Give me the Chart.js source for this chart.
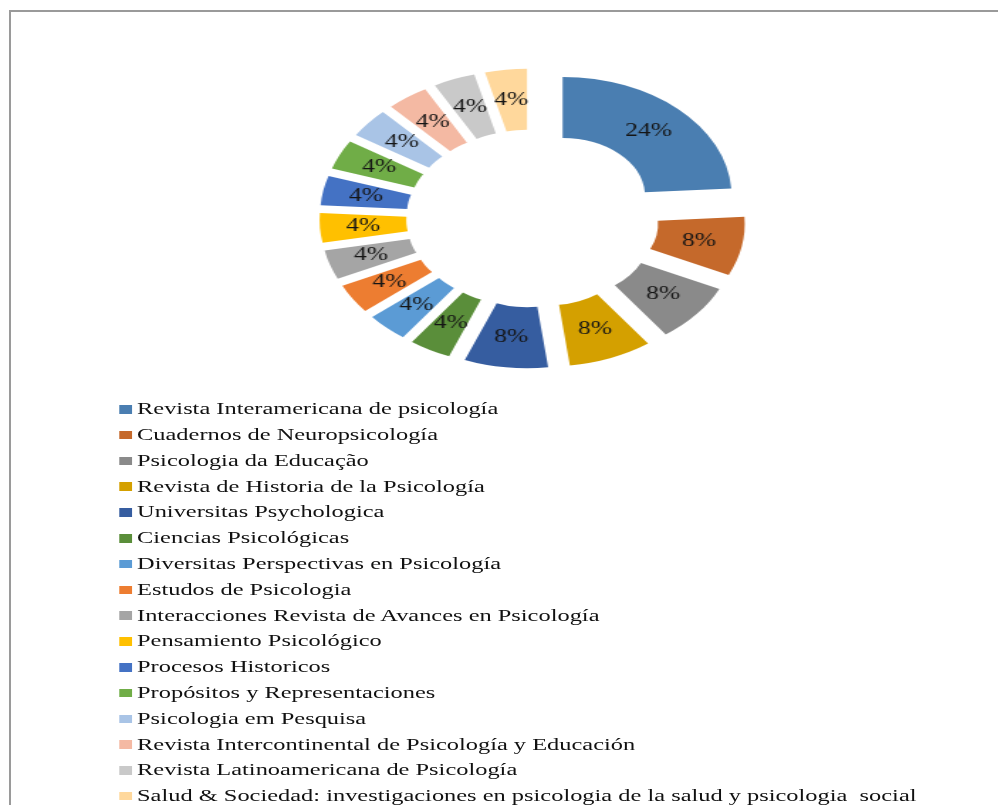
<!DOCTYPE html>
<html>
<head>
<meta charset="utf-8">
<script src="https://cdn.jsdelivr.net/npm/chart.js@4/dist/chart.umd.min.js"></script>
<style>
  html, body { margin: 0; padding: 0; background: #fff; overflow: hidden; width: 998px; height: 805px; }
  #frame { position: absolute; left: 9px; top: 10px; width: 1100px; height: 900px;
           border-left: 2px solid #9a9a9a; border-top: 2px solid #9a9a9a; box-sizing: border-box; }
  #wrap { position: absolute; left: 0; top: 0; width: 703px; height: 805px;
          transform: scaleX(1.42); transform-origin: 0 0; }
  #chartBox { position: absolute; left: 0; top: 0; width: 703px; height: 395px; }
  #legend { position: absolute; left: 84px; top: 396.4px; font-family: "Liberation Serif", "Times New Roman", serif;
            font-size: 17.2px; color: #111; }
  .item { display: flex; align-items: center; height: 25.8px; white-space: pre; }
  .box { width: 8.5px; height: 8.5px; margin-right: 4px; flex: none; }
</style>
</head>
<body>
<div id="frame"></div>
<div id="wrap">
  <div id="chartBox"><canvas id="c"></canvas></div>
  <div id="legend"></div>
</div>
<script>
const categories = [
  "Revista Interamericana de psicología",
  "Cuadernos de Neuropsicología",
  "Psicologia da Educação",
  "Revista de Historia de la Psicología",
  "Universitas Psychologica",
  "Ciencias Psicológicas",
  "Diversitas Perspectivas en Psicología",
  "Estudos de Psicologia",
  "Interacciones Revista de Avances en Psicología",
  "Pensamiento Psicológico",
  "Procesos Historicos",
  "Propósitos y Representaciones",
  "Psicologia em Pesquisa",
  "Revista Intercontinental de Psicología y Educación",
  "Revista Latinoamericana de Psicología",
  "Salud & Sociedad: investigaciones en psicologia de la salud y psicologia  social"
];
const percentages = [24, 8, 8, 8, 8, 4, 4, 4, 4, 4, 4, 4, 4, 4, 4, 4];
const sliceColors = [
  "#4a7eb1", "#c5692b", "#8a8a8a", "#d4a000", "#365da0", "#5a8e3a",
  "#5b9bd5", "#ed7d31", "#a5a5a5", "#ffc000", "#4472c4", "#70ad47",
  "#a9c4e6", "#f4b9a3", "#c9c9c9", "#ffd89c"
];

// explode distance (pure radial translation of each slice, like Excel)
const EXPLODE = 31;

const explodePlugin = {
  id: 'explode',
  beforeDatasetDraw(chart, args) {
    const ctx = chart.ctx;
    args.meta.data.forEach(arc => {
      const p = arc.getProps(['startAngle', 'endAngle'], true);
      const mid = (p.startAngle + p.endAngle) / 2;
      ctx.save();
      ctx.translate(Math.cos(mid) * EXPLODE, Math.sin(mid) * EXPLODE);
      arc.draw(ctx, chart.chartArea);
      ctx.restore();
    });
    return false;
  },
  afterDatasetsDraw(chart) {
    const ctx = chart.ctx;
    const meta = chart.getDatasetMeta(0);
    ctx.save();
    ctx.font = '18px "Liberation Serif", "Times New Roman", serif';
    ctx.fillStyle = '#151515';
    ctx.textAlign = 'center';
    ctx.textBaseline = 'middle';
    meta.data.forEach((arc, i) => {
      const p = arc.getProps(['x', 'y', 'startAngle', 'endAngle', 'innerRadius', 'outerRadius'], true);
      const mid = (p.startAngle + p.endAngle) / 2;
      const rr = (p.innerRadius + p.outerRadius) / 2 + EXPLODE;
      ctx.fillText(percentages[i] + '%', p.x + Math.cos(mid) * rr, p.y + Math.sin(mid) * rr);
    });
    ctx.restore();
  }
};

new Chart(document.getElementById('c'), {
  type: 'doughnut',
  data: {
    labels: categories,
    datasets: [{
      data: percentages,
      backgroundColor: sliceColors,
      borderWidth: 0,
      offset: 0,
      hoverOffset: 0
    }]
  },
  options: {
    responsive: true,
    maintainAspectRatio: false,
    animation: false,
    radius: 119,
    cutout: '48.7%',
    layout: { padding: { left: 47, top: 42 } },
    plugins: { legend: { display: false }, tooltip: { enabled: false } }
  },
  plugins: [explodePlugin]
});

const legend = document.getElementById('legend');
categories.forEach((name, i) => {
  const row = document.createElement('div');
  row.className = 'item';
  const box = document.createElement('span');
  box.className = 'box';
  box.style.background = sliceColors[i];
  const txt = document.createElement('span');
  txt.textContent = name;
  row.appendChild(box);
  row.appendChild(txt);
  legend.appendChild(row);
});
</script>
</body>
</html>
